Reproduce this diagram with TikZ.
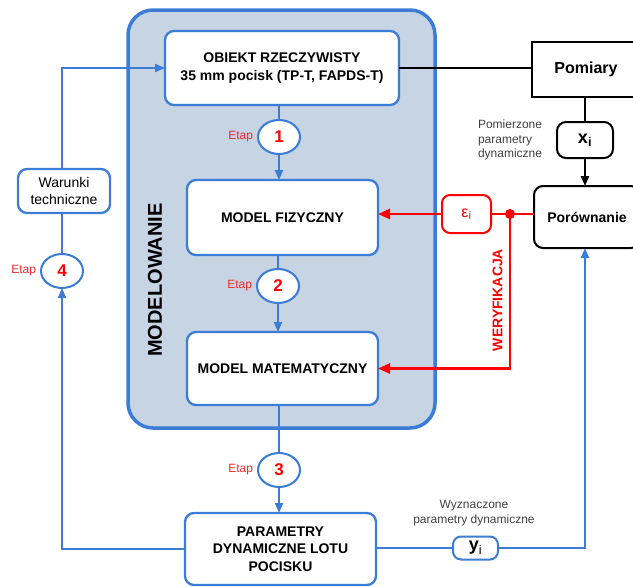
\documentclass[tikz,border=0pt]{standalone}
\usepackage{fontspec}
\setmainfont{Liberation Sans}
\usetikzlibrary{arrows.meta,shapes.geometric}
\definecolor{bl}{RGB}{58,124,214}
\definecolor{fillc}{RGB}{198,212,228}
\definecolor{gr}{RGB}{64,64,64}
\definecolor{rd}{RGB}{255,0,0}
\definecolor{rdl}{RGB}{240,40,40}
\begin{document}
\begin{tikzpicture}[x=1pt,y=-1pt,
  every node/.style={inner sep=0pt, outer sep=0pt},
  container/.style={draw=bl, line width=3.5pt, fill=fillc, rounded corners=25pt},
  bbox/.style={draw=bl, line width=2.3pt, fill=white, rounded corners=9pt, align=center, font=\fontsize{14}{17.5}\selectfont\bfseries},
  kbox/.style={draw=black, line width=2pt, fill=white, align=center},
  stage/.style={ellipse, draw=bl, line width=2pt, fill=white, minimum width=42pt, minimum height=34pt, text=rd, font=\fontsize{17}{17}\selectfont\bfseries},
  etap/.style={text=rdl, font=\fontsize{12}{14}\selectfont, anchor=east, xshift=-5pt},
  graytxt/.style={text=gr, font=\fontsize{12}{14.5}\selectfont},
  bline/.style={draw=bl, line width=2pt},
  barrow/.style={bline, -{Triangle[length=10pt,width=8pt]}},
  kline/.style={draw=black, line width=2pt},
  karrow/.style={kline, -{Triangle[length=10pt,width=8pt]}},
  rline/.style={draw=rd, line width=2.5pt},
  rarrow/.style={rline, -{Triangle[length=12pt,width=10pt]}}]
\useasboundingbox (0,0) rectangle (633,587);
\clip (0,0) rectangle (633,587);

% container
\node[container, minimum width=307pt, minimum height=418pt] (modc) at (281.5,219) {};
\node[rotate=90, font=\fontsize{20}{20}\selectfont\bfseries] (modt) at (155,280) {MODELOWANIE};

% boxes
\node[bbox, minimum width=234pt, minimum height=74pt] (obj) at (282,68) {OBIEKT RZECZYWISTY\\[1pt]35 mm pocisk (TP-T, FAPDS-T)};
\node[bbox, minimum width=191pt, minimum height=75pt] (fiz) at (282.5,217.5) {MODEL FIZYCZNY};
\node[bbox, minimum width=191pt, minimum height=73pt] (mat) at (282.5,368.5) {MODEL MATEMATYCZNY};
\node[bbox, minimum width=191pt, minimum height=72pt] (par) at (280.5,549) {PARAMETRY\\DYNAMICZNE LOTU\\POCISKU};
\node[bbox, font=\fontsize{14}{17}\selectfont, minimum width=92pt, minimum height=44pt] (war) at (64,191) {Warunki\\techniczne};

\node[kbox, minimum width=108pt, minimum height=55pt, font=\fontsize{16}{16}\selectfont\bfseries] (pom) at (586,69.5) {Pomiary};
\node[kbox, rounded corners=9pt, minimum width=106pt, minimum height=62pt, font=\fontsize{14}{14}\selectfont\bfseries] (por) at (587,217) {Porównanie};
\node[kbox, rounded corners=9pt, minimum width=56pt, minimum height=36pt, font=\fontsize{18}{18}\selectfont] (xi) at (585,140) {\textbf{x}\textsubscript{\bfseries i}};
\node[draw=rd, line width=2pt, fill=white, rounded corners=8pt, minimum width=49pt, minimum height=38pt, text=rd, font=\fontsize{16}{16}\selectfont] (eps) at (466.5,214) {ε\textsubscript{i}};
\node[draw=bl, line width=2pt, fill=white, rounded corners=8pt, minimum width=45pt, minimum height=23pt, font=\fontsize{18}{18}\selectfont] (yi) at (475.5,548) {\textbf{y}\textsubscript{i}};

% stages
\node[stage] (c1) at (279,137) {1};
\node[stage] (c2) at (278,286) {2};
\node[stage] (c3) at (279,470) {3};
\node[stage] (c4) at (62,271) {4};
\node[etap] (e1) at (c1.west) {Etap};
\node[etap] (e2) at (c2.west) {Etap};
\node[etap] (e3) at (c3.west) {Etap};
\node[etap] (e4) at (c4.west) {Etap};

% labels
\node[graytxt, align=left, anchor=west] (pomt) at (478,140) {Pomierzone\\parametry\\dynamiczne};
\node[graytxt, align=center] (wyzt) at (474,513) {Wyznaczone\\parametry dynamiczne};
\node[rotate=90, text=rd, font=\fontsize{14}{14}\selectfont\bfseries] (wer) at (497.5,300) {WERYFIKACJA};

% blue connectors
\draw[bline] (obj.south -| c1) -- (c1.north);
\draw[barrow] (c1.south) -- (c1 |- fiz.north);
\draw[bline] (fiz.south -| c2) -- (c2.north);
\draw[barrow] (c2.south) -- (c2 |- mat.north);
\draw[bline] (mat.south -| c3) -- (c3.north);
\draw[barrow] (c3.south) -- (c3 |- par.north);
\draw[barrow] (war.north -| c4) |- (obj.west);
\draw[bline] (c4.north) -- (c4 |- war.south);
\draw[barrow] (par.west) -| (c4.south);
\draw[bline] (yi.west -| par.east) -- (yi.west);
\draw[barrow] (yi.east) -| (xi |- por.south);

% black connectors
\draw[kline] (obj.east) -- (obj.east -| pom.west);
\draw[kline] (xi |- pom.south) -- (xi.north);
\draw[karrow] (xi.south) -- (xi |- por.north);

% red connectors
\coordinate (dot) at (510,214);
\draw[rline] (dot -| por.west) -- (eps.east);
\draw[rarrow] (eps.west) -- (eps -| fiz.east);
\draw[rarrow] (dot) |- (mat.east);
\fill[rd] (dot) circle (5pt);
\end{tikzpicture}
\end{document}
